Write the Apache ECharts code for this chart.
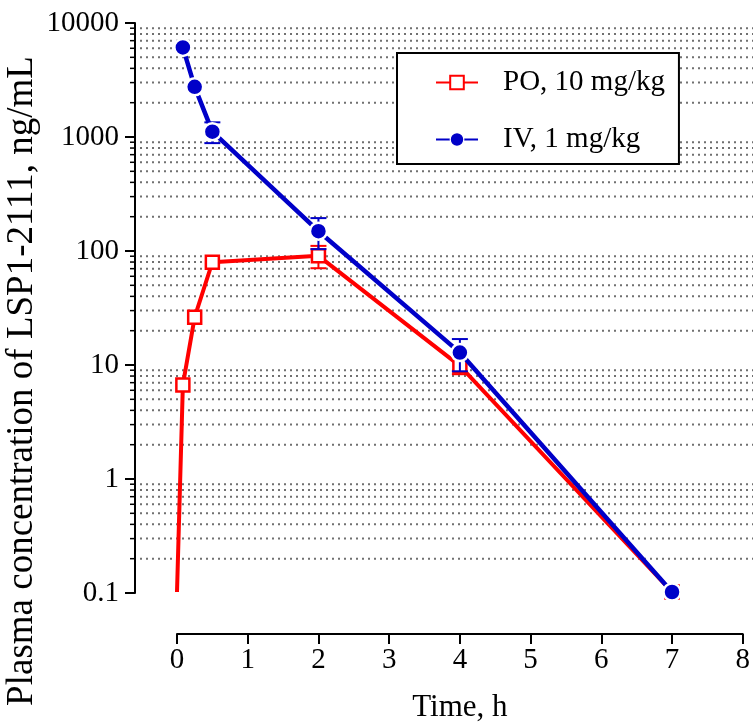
<!DOCTYPE html>
<html>
<head>
<meta charset="utf-8">
<script src="https://cdn.jsdelivr.net/npm/echarts@6/dist/echarts.min.js"></script>
<style>html,body{margin:0;padding:0;background:#fff;}#c{width:753px;height:728px;}</style>
</head>
<body>
<div id="c"></div>
<script>
// ---- data ----
const poTimes = [0, 0.083, 0.25, 0.5, 2, 4, 7];
const poMean  = [0.1, 6.6, 26, 79, 90, 9.7, 0.1];
const poSD    = [0, 0, 0, 0, 20, 1.5, 0];
const ivTimes = [0.083, 0.25, 0.5, 2, 4, 7];
const ivMean  = [6100, 2750, 1110, 148, 12.7, 0.1];
const ivSD    = [0, 0, 230, 45, 4, 0];
const xTicks  = [0, 1, 2, 3, 4, 5, 6, 7, 8];
const yDecades = [0.1, 1, 10, 100, 1000, 10000];
const yMinorLines = [0.2,0.3,0.4,0.5,0.6,0.7,0.8,0.9,
                     2,3,4,5,6,7,8,9,
                     20,30,40,50,60,70,80,90,
                     200,300,400,500,600,700,800,900,
                     2000,3000,4000,5000,6000,7000,8000,9000];
const seriesNames = ['PO, 10 mg/kg', 'IV, 1 mg/kg'];

const FONT = 'Liberation Serif';
const RED = '#ff0000';
const BLUE = '#0000c8';

const chart = echarts.init(document.getElementById('c'), null, {renderer: 'canvas'});

function errBar(color) {
  return function (params, api) {
    const x = api.value(0), m = api.value(1), s = api.value(2);
    if (!s) return null;
    const hi = api.coord([x, m + s]);
    const lo = api.coord([x, m - s]);
    const w = 8;
    const st = {stroke: color, lineWidth: 2};
    return {type: 'group', children: [
      {type: 'line', shape: {x1: hi[0], y1: hi[1], x2: lo[0], y2: lo[1]}, style: st},
      {type: 'line', shape: {x1: hi[0] - w, y1: hi[1], x2: hi[0] + w, y2: hi[1]}, style: st},
      {type: 'line', shape: {x1: lo[0] - w, y1: lo[1], x2: lo[0] + w, y2: lo[1]}, style: st}
    ]};
  };
}

const option = {
  animation: false,
  backgroundColor: '#fff',
  grid: [
    {left: 177, width: 568, top: 23, height: 570},
    {left: 135, right: 0, top: 23, height: 570}
  ],
  xAxis: [
    {
      gridIndex: 0, type: 'value', min: 0, max: 8, interval: 1, offset: 42,
      axisLine: {show: true, onZero: false, lineStyle: {color: '#000', width: 2}},
      axisTick: {show: true, length: 10, lineStyle: {color: '#000', width: 2}},
      axisLabel: {fontFamily: FONT, fontSize: 29, color: '#000', margin: 12,
                  formatter: v => xTicks.includes(v) ? String(v) : ''},
      splitLine: {show: false},
      name: 'Time, h', nameLocation: 'middle', nameGap: 58,
      nameTextStyle: {fontFamily: FONT, fontSize: 31, color: '#000'}
    },
    {gridIndex: 1, type: 'value', min: 0, max: 1, show: false}
  ],
  yAxis: [
    {gridIndex: 0, type: 'log', logBase: 10, min: 0.1, max: 10000, show: false},
    {
      gridIndex: 1, type: 'log', logBase: 10, min: 0.1, max: 10000,
      axisLine: {show: true, onZero: false, lineStyle: {color: '#000', width: 2}},
      axisTick: {show: true, length: 10, lineStyle: {color: '#000', width: 2}},
      axisLabel: {fontFamily: FONT, fontSize: 29, color: '#000', margin: 16,
                  formatter: v => { const f = yDecades.find(d => Math.abs(d - v) / d < 1e-6); return f !== undefined ? String(f) : ''; }},
      splitLine: {show: false}
    }
  ],
  legend: {
    orient: 'vertical', left: 397, top: 53,
    padding: [15, 14, 10, 38], itemGap: 28,
    itemWidth: 42, itemHeight: 17,
    backgroundColor: '#fff', borderColor: '#000', borderWidth: 2,
    textStyle: {fontFamily: FONT, fontSize: 29, color: '#000', padding: [0, 0, 0, 20]},
    data: [{name: seriesNames[0]}, {name: seriesNames[1], itemStyle: {borderWidth: 1.2}}]
  },
  graphic: [{
    type: 'text', x: 22, y: 381, rotation: Math.PI / 2,
    style: {text: 'Plasma concentration of LSP1-2111, ng/mL', fontFamily: FONT, fontSize: 37,
            fill: '#000', align: 'center', verticalAlign: 'middle'}
  }],
  series: [
    {
      type: 'custom', xAxisIndex: 1, yAxisIndex: 1, silent: true, z: 1,
      data: yMinorLines.map(v => [0, v]),
      renderItem: function (params, api) {
        const y = api.coord([0, api.value(1)])[1];
        const cs = params.coordSys;
        return {type: 'group', children: [
          {type: 'line', shape: {x1: cs.x + 5, y1: y, x2: cs.x + cs.width, y2: y},
           style: {stroke: '#707070', lineWidth: 2, lineDash: [2, 4]}},
          {type: 'line', shape: {x1: cs.x - 5, y1: y, x2: cs.x, y2: y},
           style: {stroke: '#000', lineWidth: 1.5}}
        ]};
      }
    },
    {
      type: 'custom', xAxisIndex: 0, yAxisIndex: 0, silent: true, z: 3,
      data: poTimes.map((t, i) => [t, poMean[i], poSD[i]]),
      renderItem: errBar(RED)
    },
    {
      type: 'custom', xAxisIndex: 0, yAxisIndex: 0, silent: true, z: 5,
      data: ivTimes.map((t, i) => [t, ivMean[i], ivSD[i]]),
      renderItem: errBar(BLUE)
    },
    {
      name: seriesNames[0], type: 'line', xAxisIndex: 0, yAxisIndex: 0, z: 4,
      symbol: 'rect', symbolSize: 13,
      lineStyle: {color: RED, width: 4},
      itemStyle: {color: '#fff', borderColor: RED, borderWidth: 2.5},
      data: poTimes.map((t, i) => i === 0 ? {value: [t, poMean[i]], symbol: 'none'} : [t, poMean[i]])
    },
    {
      name: seriesNames[1], type: 'line', xAxisIndex: 0, yAxisIndex: 0, z: 6,
      symbol: 'circle', symbolSize: 17,
      lineStyle: {color: BLUE, width: 4.5},
      itemStyle: {color: BLUE, borderColor: '#fff', borderWidth: 2.5},
      data: ivTimes.map((t, i) => [t, ivMean[i]])
    }
  ]
};
chart.setOption(option);
</script>
</body>
</html>
